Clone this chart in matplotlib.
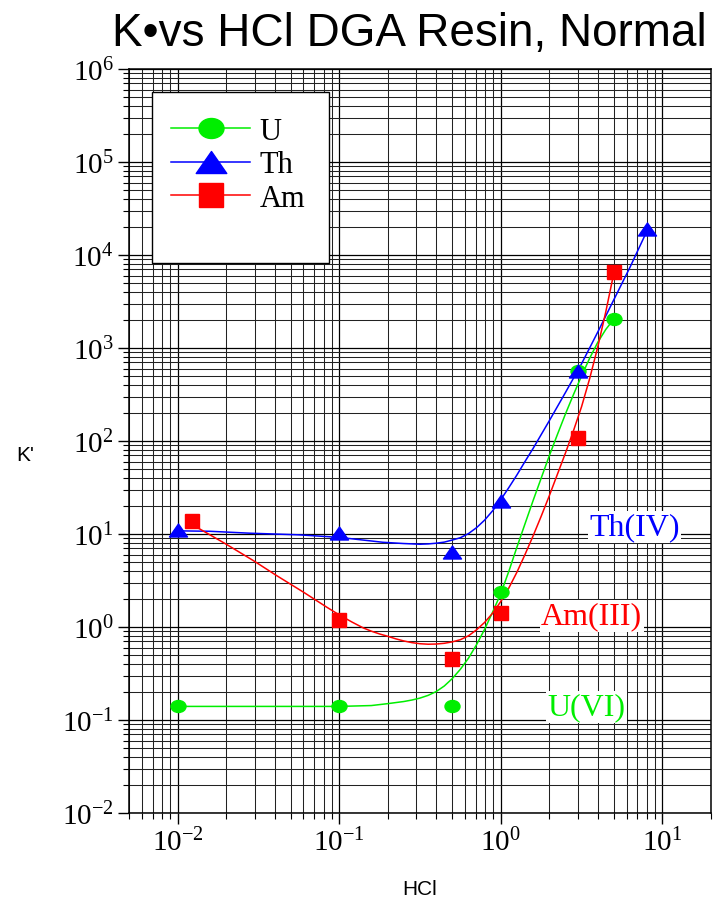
import numpy as np
import matplotlib
matplotlib.use('Agg')
import matplotlib.pyplot as plt
from matplotlib.path import Path
from matplotlib.lines import Line2D
from matplotlib.patches import Rectangle
from matplotlib.ticker import NullFormatter

plt.rcParams['font.family'] = ['Liberation Serif', 'DejaVu Serif']
plt.rcParams['mathtext.fontset'] = 'custom'
plt.rcParams['mathtext.rm'] = 'Liberation Serif'
plt.rcParams['axes.unicode_minus'] = False

# measured points (HCl molarity, k')
x_u = [0.01, 0.1, 0.5, 1, 3, 5]
k_u = [0.14, 0.14, 0.14, 2.4, 570, 2050]
x_th = [0.01, 0.1, 0.5, 1, 3, 8]
k_th = [11, 10.2, 6.4, 22.5, 560, 19000]
x_am = [0.0123, 0.1, 0.5, 1, 3, 5]
k_am = [13.9, 1.2, 0.45, 1.4, 108, 6500]

# fitted curves as drawn in the original
fx_u = [0.01, 0.1, 0.158, 0.2, 0.251, 0.282, 0.316, 0.355, 0.398, 0.447, 0.501, 0.562,
        0.631, 0.708, 0.794, 0.891, 1.0, 1.122, 1.259, 1.413, 1.585, 1.778, 1.995,
        2.239, 2.512, 2.818, 3.162, 3.548, 3.981, 4.467, 5.0]
fk_u = [0.14, 0.14, 0.143, 0.15, 0.158, 0.164, 0.172, 0.184, 0.202, 0.232, 0.279, 0.351,
        0.462, 0.646, 0.944, 1.45, 2.29, 3.98, 7.24, 12.9, 22.9, 39.8, 69.2,
        117, 195, 316, 501, 776, 1150, 1585, 2040]
fx_th = [0.0105, 0.0158, 0.028, 0.056, 0.1, 0.133, 0.186, 0.25, 0.316, 0.355, 0.398, 0.447,
         0.501, 0.562, 0.631, 0.708, 0.794, 0.891, 1.0, 1.122, 1.259, 1.413, 1.585,
         2.0, 2.51, 3.16, 3.98, 5.01, 6.31, 7.94]
fk_th = [10.8, 10.7, 10.2, 9.8, 9.2, 8.7, 8.15, 7.9, 7.76, 7.82, 7.96, 8.18,
         8.61, 9.12, 10.1, 11.7, 14.1, 17.8, 23.4, 31.6, 43.2, 60.3, 83.2,
         166, 331, 676, 1480, 3310, 7400, 17400]
fx_am = [0.0135, 0.02, 0.0295, 0.0411, 0.0603, 0.0839, 0.1, 0.12, 0.141, 0.158, 0.178, 0.2,
         0.224, 0.251, 0.282, 0.316, 0.355, 0.398, 0.447, 0.501, 0.562, 0.631, 0.708,
         0.794, 0.891, 1.0, 1.122, 1.259, 1.413, 1.585, 1.778, 1.995, 2.239, 2.512,
         2.818, 3.162, 3.548, 3.981, 4.467, 5.0]
fk_am = [11.5, 7.76, 5.16, 3.56, 2.36, 1.63, 1.35, 1.13, 0.977, 0.902, 0.841, 0.794,
         0.746, 0.708, 0.679, 0.661, 0.653, 0.656, 0.668, 0.692, 0.73, 0.804, 0.933,
         1.12, 1.41, 1.88, 2.63, 3.89, 6.03, 9.55, 15.5, 25.7, 43.7, 74.1,
         129, 234, 468, 1023, 2455, 6310]

green = '#00ee00'
blue = '#0000ff'
red = '#ff0000'

# custom markers: squashed ellipse and wide triangle
circ = Path.unit_circle()
ellipse = Path(circ.vertices * [1, 0.8], circ.codes)
tri = Path([(0, 0.72), (-1, -0.72), (1, -0.72), (0, 0.72)],
           [Path.MOVETO, Path.LINETO, Path.LINETO, Path.CLOSEPOLY])

fig = plt.figure(figsize=(7.24, 9.04), dpi=100)
ax = fig.add_axes([129 / 724, 1 - 814 / 904, 582 / 724, 744 / 904])

ax.set_xscale('log')
ax.set_yscale('log')
ax.set_xlim(0.005, 20)
ax.set_ylim(1e-2, 1e6)
ax.xaxis.set_minor_formatter(NullFormatter())
ax.yaxis.set_minor_formatter(NullFormatter())

ax.set_axisbelow(True)
ax.grid(True, which='major', color='black', lw=0.9)
ax.grid(True, which='minor', color='#222222', lw=0.75)

ax.plot(fx_u, fk_u, color=green, lw=1.1, zorder=2)
ax.plot(fx_th, fk_th, color=blue, lw=1.1, zorder=2)
ax.plot(fx_am, fk_am, color=red, lw=1.1, zorder=2)

ax.plot(x_u, k_u, ls='none', marker=ellipse, ms=10.8, color=green, mec=green, zorder=3)
ax.plot(x_th, k_th, ls='none', marker=tri, ms=13, color=blue, mec=blue, zorder=3)
ax.plot(x_am, k_am, ls='none', marker='s', ms=10, color=red, mec=red, zorder=3)

ax.tick_params(which='major', direction='out', length=8, width=1, labelsize=21, pad=3)
ax.tick_params(which='minor', direction='out', length=4, width=0.8)
for s in ax.spines.values():
    s.set_linewidth(1.1)

# labels on the curves
box = dict(facecolor='white', edgecolor='none', pad=1)
ax.text(3.52, 11.9, 'Th(IV)', color=blue, fontsize=23, va='center', bbox=box, zorder=4)
ax.text(1.78, 1.31, 'Am(III)', color=red, fontsize=23, va='center', bbox=box, zorder=4)
ax.text(1.94, 0.138, 'U(VI)', color=green, fontsize=23, va='center', bbox=box, zorder=4)

# legend box
ax.add_patch(Rectangle((0.0395, 0.739), 0.304, 0.23, transform=ax.transAxes,
                       facecolor='white', edgecolor='black', lw=1, zorder=4))
handles = [
    Line2D([], [], color=green, lw=1.1, marker=ellipse, ms=18),
    Line2D([], [], color=blue, lw=1.1, marker=tri, ms=22),
    Line2D([], [], color=red, lw=1.1, marker='s', ms=17),
]
leg = ax.legend(handles, ['U', 'Th', 'Am'], loc='upper left', bbox_to_anchor=(0.072, 0.936),
                frameon=False, fontsize=22, borderpad=0, borderaxespad=0,
                handlelength=2.6, handletextpad=0.3, labelspacing=0.15)
leg.set_zorder(5)

sans = ['Liberation Sans', 'DejaVu Sans']
fig.text(0.566, 0.962, 'K\u2022vs HCl DGA Resin, Normal', fontsize=33, ha='center', va='center',
         family=sans)
fig.text(25 / 724, 1 - 456 / 904, "K'", fontsize=15, ha='center', va='center', family=sans)
fig.text(420 / 724, 1 - 890 / 904, 'HCl', fontsize=15, ha='center', va='center', family=sans)

fig.savefig('out.png', dpi=100)
